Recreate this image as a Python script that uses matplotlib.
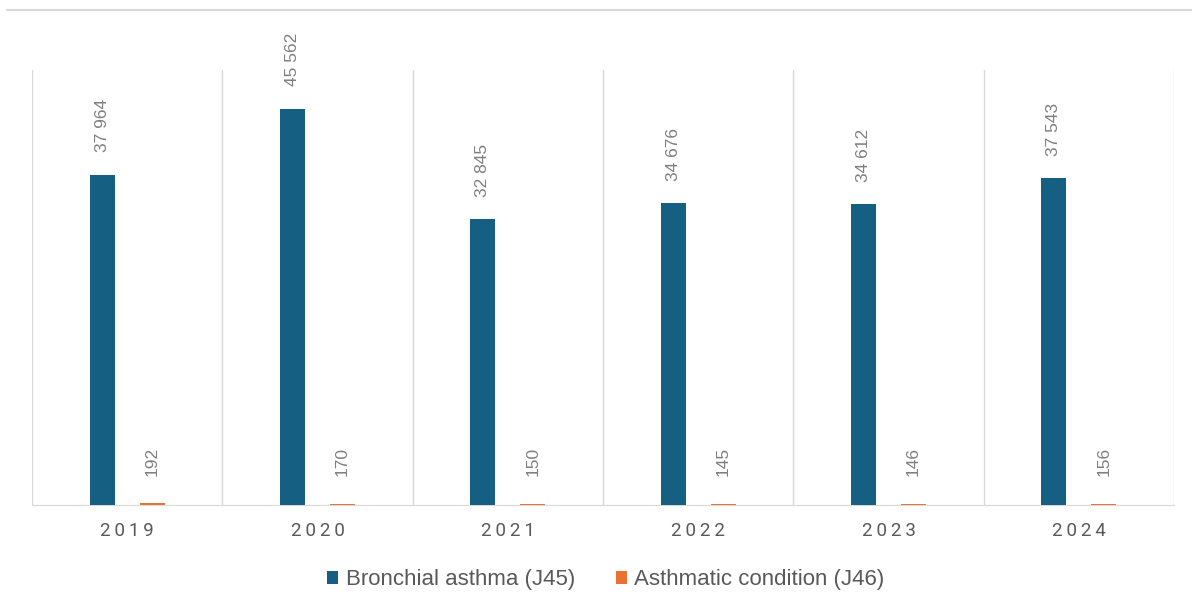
import matplotlib
matplotlib.use("Agg")
import matplotlib.pyplot as plt
from matplotlib.lines import Line2D
import numpy as np

years = ["2019", "2020", "2021", "2022", "2023", "2024"]
bronchial = [37964, 45562, 32845, 34676, 34612, 37543]
asthmatic = [192, 170, 150, 145, 146, 156]
series_names = ["Bronchial asthma (J45)", "Asthmatic condition (J46)"]
colors = ["#156082", "#E97132"]

def fmt(v):
    return f"{v:,}".replace(",", " ")

fig = plt.figure(figsize=(11.92, 6.05), dpi=100)
W, H = 1192, 605
ax = fig.add_axes([32 / W, 100 / H, (1174 - 32) / W, (505 - 70) / H])

x = np.arange(len(years))
off = 0.131
bw = 0.131
b1 = ax.bar(x - off, bronchial, width=bw, color=colors[0], label=series_names[0], zorder=3)
b2 = ax.bar(x + off, asthmatic, width=bw, color=colors[1], label=series_names[1], zorder=1)

lab_font = ["Liberation Sans", "DejaVu Sans"]
for bars, vals, dy in ((b1, bronchial, 16), (b2, asthmatic, 20)):
    for rect, v in zip(bars, vals):
        ax.annotate(fmt(v), (rect.get_x() + rect.get_width() / 2, rect.get_height()),
                    xytext=(0, dy), textcoords="offset points", rotation=90,
                    ha="center", va="bottom", fontsize=12.5, color="#7f7f7f",
                    family=lab_font)

ax.set_xlim(-0.5, len(years) - 0.5)
ax.set_ylim(0, 50000)
ax.set_yticks([])
ax.set_xticks(x)
ax.set_xticklabels(["\u2009".join(y) for y in years], fontsize=13.5, color="#595959",
                   family=["Roboto", "DejaVu Sans"])
ax.tick_params(axis="x", length=0, pad=12)
for b in np.arange(-0.5, len(years), 1.0):
    ax.axvline(b, color="#d9d9d9", lw=1, zorder=0)
for s in ["top", "left", "right"]:
    ax.spines[s].set_visible(False)
ax.spines["bottom"].set_color("#d9d9d9")
ax.spines["bottom"].set_zorder(2)

fig.add_artist(Line2D([7 / W, 1.0], [1 - 10 / H, 1 - 10 / H], color="#d9d9d9", lw=1.5))

leg = fig.legend(handles=[b1, b2], loc="center", bbox_to_anchor=(606 / W, 1 - 580 / H),
                 ncol=2, frameon=False, handlelength=0.5, handleheight=0.5,
                 handletextpad=0.35, columnspacing=1.8,
                 prop={"family": ["Liberation Sans", "DejaVu Sans"], "size": 16})
for t in leg.get_texts():
    t.set_color("#595959")

fig.savefig("out.png", dpi=100)
